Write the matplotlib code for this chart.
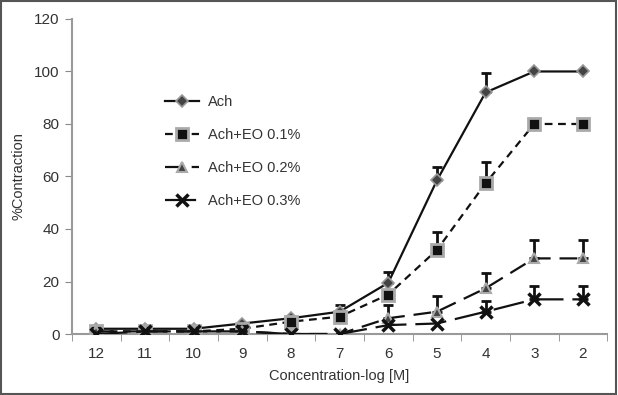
import numpy as np
import matplotlib
matplotlib.use('Agg')
import matplotlib.pyplot as plt
from matplotlib.patches import Rectangle

plt.rcParams['font.family'] = ['Liberation Sans', 'DejaVu Sans']

# Concentration (-log M) categories
conc = ['12', '11', '10', '9', '8', '7', '6', '5', '4', '3', '2']

# Mean % contraction for each treatment
ach = [2, 2, 2, 4, 6, 8.5, 19.5, 58.5, 92, 100, 100]
eo01 = [1, 1, 1, 2, 4.7, 6.6, 15, 32, 57.4, 80, 80]
eo02 = [1, 1, 1, 1, 0, 0, 6, 8.5, 17.4, 28.8, 28.8]
eo03 = [0, 1, 1, 1, 0, 0, 3.4, 4, 8.5, 13.2, 13.2]

# Upper error (SEM) for each treatment
ach_err = [0, 0, 0, 0, 0, 2.5, 4, 5, 7.5, 0, 0]
eo01_err = [0, 0, 0, 0, 0, 0, 0, 7, 8, 0, 0]
eo02_err = [0, 0, 0, 0, 0, 0, 5, 6, 6, 7, 7]
eo03_err = [0, 0, 0, 0, 0, 0, 0, 0, 4, 5, 5]

x = np.arange(len(conc))
txt = '#333333'

fig = plt.figure(figsize=(6.18, 3.95), dpi=100)
ax = fig.add_axes([0.1165, 0.1544, 0.866, 0.7976])

series = [
    ('Ach', ach, ach_err, dict(ls='-', marker='D', ms=6, mfc='#444444', mec='#999999', mew=1.2)),
    ('Ach+EO 0.1%', eo01, eo01_err, dict(ls=(0, (3.5, 2.5)), marker='s', ms=8, mfc='#111111', mec='#aaaaaa', mew=2)),
    ('Ach+EO 0.2%', eo02, eo02_err, dict(ls=(0, (8, 4)), marker='^', ms=7, mfc='#444444', mec='#aaaaaa', mew=1.5)),
    ('Ach+EO 0.3%', eo03, eo03_err, dict(ls=(0, (14, 4)), marker='x', ms=8, mec='#111111', mew=2.5)),
]

for label, y, err, style in series:
    y = np.array(y, dtype=float)
    e = np.array(err, dtype=float)
    mask = e > 0
    ax.errorbar(x[mask], y[mask], yerr=[np.zeros(mask.sum()), e[mask]],
                fmt='none', ecolor='#111111', elinewidth=2, capsize=3.5, capthick=2, zorder=2)
    ax.plot(x, y, color='#111111', lw=1.6, label=label, zorder=3, **style)

ax.set_xlim(-0.5, len(conc) - 0.5)
ax.set_ylim(0, 120)
ax.set_yticks(np.arange(0, 121, 20))
ax.set_xticks(x)
ax.set_xticklabels(conc)
ax.set_xticks(np.arange(-0.5, len(conc), 1), minor=True)
ax.tick_params(axis='x', which='major', length=0, pad=9, labelsize=11, colors=txt)
ax.tick_params(axis='x', which='minor', length=5, color='#888888', direction='out')
ax.tick_params(axis='y', length=5, color='#888888', labelsize=11, colors=txt, pad=4)

for side in ['top', 'right']:
    ax.spines[side].set_visible(False)
for side in ['left', 'bottom']:
    ax.spines[side].set_color('#999999')
    ax.spines[side].set_linewidth(1.5)

ax.set_xlabel('Concentration-log [M]', fontsize=10.5, color=txt, labelpad=6)
ax.set_ylabel('%Contraction', fontsize=10.5, color=txt, labelpad=6)

ax.legend(loc='upper left', bbox_to_anchor=(0.15, 0.80), frameon=False,
          fontsize=10.5, labelspacing=1.3, handlelength=2.3, handletextpad=0.6,
          labelcolor=txt)

fig.patches.append(Rectangle((0.002, 0.003), 0.995, 0.994, transform=fig.transFigure,
                             fill=False, edgecolor='#555555', lw=1.5))

fig.savefig('out.png', dpi=100)
